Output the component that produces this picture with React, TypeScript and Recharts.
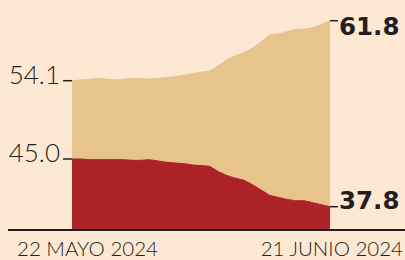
import React from 'react';
import { AreaChart, Area, XAxis, YAxis, LabelList } from 'recharts';

const dates = [
  '22 may', '23 may', '24 may', '25 may', '26 may', '27 may', '28 may', '29 may', '30 may', '31 may',
  '1 jun', '2 jun', '3 jun', '4 jun', '5 jun', '6 jun', '7 jun', '8 jun', '9 jun', '10 jun',
  '11 jun', '12 jun', '13 jun', '14 jun', '15 jun', '16 jun', '17 jun', '18 jun', '19 jun', '20 jun', '21 jun',
];

const tanValues = [
  54.1, 54.2, 54.3, 54.4, 54.3, 54.2, 54.3, 54.4, 54.4, 54.3,
  54.4, 54.5, 54.6, 54.8, 55.0, 55.2, 55.3, 56.0, 56.8, 57.3,
  57.7, 58.3, 59.1, 60.0, 60.1, 60.4, 60.7, 60.7, 60.9, 61.3, 61.8,
];

const redValues = [
  45.0, 45.0, 44.9, 44.9, 44.9, 44.9, 44.9, 44.8, 44.8, 44.9,
  44.7, 44.5, 44.4, 44.3, 44.1, 44.0, 43.9, 43.1, 42.5, 42.1,
  41.8, 41.1, 40.3, 39.5, 39.2, 38.9, 38.7, 38.7, 38.4, 38.1, 37.8,
];

const xTicks = [dates[0], dates[dates.length - 1]];
const xTickLabels = ['22 MAYO 2024', '21 JUNIO 2024'];

const data = dates.map((d, i) => ({ date: d, tan: tanValues[i], red: redValues[i] }));

const BG = '#fde8d4';
const TAN = '#e6c48c';
const RED = '#ad2226';
const INK = '#231f20';
const LIGHT_FONT = 'Lato, "Noto Sans", sans-serif';
const BOLD_FONT = '"DejaVu Sans", sans-serif';

const makeEndLabel = (leftDy: number, rightDy: number) => (props: any) => {
  const { index, value } = props;
  const vb = props.viewBox || {};
  const x = vb.x ?? props.x;
  const y = vb.y ?? props.y;
  const last = data.length - 1;
  if (index === 0) {
    return (
      <g>
        <line x1={x - 9} x2={x} y1={y} y2={y} stroke={INK} strokeWidth={1.5} />
        <text x={x - 12} y={y + leftDy} textAnchor="end" fontFamily={LIGHT_FONT} fontWeight={300} fontSize={26} fill={INK}>
          {Number(value).toFixed(1)}
        </text>
      </g>
    );
  }
  if (index === last) {
    return (
      <g>
        <line x1={x} x2={x + 8} y1={y} y2={y} stroke={INK} strokeWidth={1.5} />
        <text x={x + 9} y={y + rightDy} textAnchor="start" fontFamily={BOLD_FONT} fontWeight={700} fontSize={24.5} fill={INK}>
          {Number(value).toFixed(1)}
        </text>
      </g>
    );
  }
  return null;
};

const XTick = (props: any) => {
  const { x, y, payload } = props;
  const first = payload.value === xTicks[0];
  const label = first ? xTickLabels[0] : xTickLabels[1];
  return (
    <text
      x={first ? x - 55 : x + 73}
      y={y + 26}
      textAnchor={first ? 'start' : 'end'}
      fontFamily={LIGHT_FONT}
      fontWeight={300}
      fontSize={20.5}
      fill={INK}
    >
      {label}
    </text>
  );
};

export default function App() {
  return (
    <div style={{ position: 'absolute', left: 0, top: 0, width: 405, height: 260, background: BG }}>
      <AreaChart width={405} height={260} data={data} margin={{ top: 20, right: 0, bottom: 0, left: 8 }}>
        <XAxis
          dataKey="date"
          padding={{ left: 64, right: 75 }}
          ticks={xTicks}
          interval={0}
          tickLine={false}
          tickSize={0}
          tickMargin={0}
          axisLine={{ stroke: INK, strokeWidth: 2 }}
          height={30}
          tick={<XTick />}
        />
        <YAxis yAxisId="tan" hide type="number" domain={[34.94, 61.89]} />
        <YAxis yAxisId="red" hide type="number" domain={[34.28, 65.98]} />
        <Area
          yAxisId="tan"
          type="linear"
          dataKey="tan"
          stroke={TAN}
          strokeWidth={1}
          fill={TAN}
          fillOpacity={1}
          isAnimationActive={false}
        >
          <LabelList dataKey="tan" content={makeEndLabel(3.6, 14)} />
        </Area>
        <Area
          yAxisId="red"
          type="linear"
          dataKey="red"
          stroke={RED}
          strokeWidth={1}
          fill={RED}
          fillOpacity={1}
          isAnimationActive={false}
        >
          <LabelList dataKey="red" content={makeEndLabel(2.7, 2.3)} />
        </Area>
      </AreaChart>
    </div>
  );
}
